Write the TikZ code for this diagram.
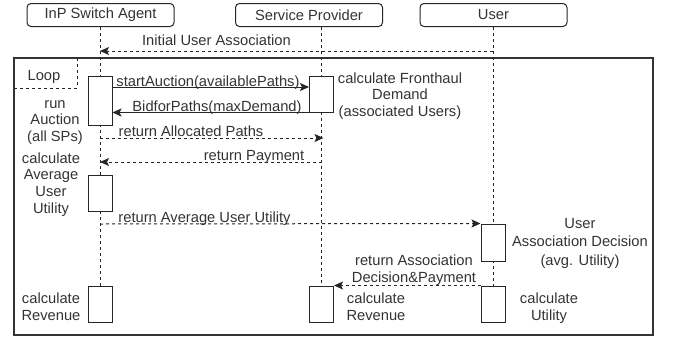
\documentclass[tikz,border=0pt]{standalone}
\usepackage{fontspec}
\setmainfont{Liberation Sans}
\usetikzlibrary{arrows.meta}
\begin{document}
\begin{tikzpicture}[x=1pt,y=-1pt,
  every node/.style={font=\fontsize{14.7}{16.8}\selectfont, text=black!80},
  actor/.style={draw=black!85, rounded corners=4pt, minimum width=147pt, minimum height=23pt, inner sep=0pt, line width=1pt},
  actbox/.style={draw=black!85, fill=white, minimum width=24pt, inner sep=0pt, line width=1pt},
  life/.style={draw=black!85, dash pattern=on 3pt off 3pt, line width=1pt},
  msg/.style={draw=black!85, line width=1pt, -{Stealth[length=9pt,width=8pt,inset=2pt]}},
  ret/.style={msg, dash pattern=on 3pt off 3pt},
  lbl/.style={inner sep=0pt, anchor=base},
  note/.style={align=center, inner sep=0pt, anchor=base}
]
\useasboundingbox (0,0) rectangle (673,341);

% loop frame
\draw[draw=black!80, line width=1.5pt] (14,58) rectangle (653,335);
\node[lbl] (looplbl) at (44,80) {Loop};
\draw[draw=black!85, dash pattern=on 3pt off 3pt, line width=1pt] (14,88) -- (77,88) -- (77,58);

% actors
\node[actor] (agent) at (100.5,15) {InP Switch Agent};
\node[actor] (sp) at (309,15) {Service Provider};
\node[actor] (user) at (493.5,15) {User};

% activation boxes (positions)
\coordinate (a1c) at (100,100.5);
\coordinate (a2c) at (100,193);
\coordinate (a3c) at (100,304);
\coordinate (s1c) at (321.5,94);
\coordinate (s2c) at (321.5,304);
\coordinate (u1c) at (493,242.5);
\coordinate (u2c) at (493,304);

% lifelines
\draw[life] (a1c |- agent.south) -- ([yshift=-49/2*1pt]a1c);
\draw[life] ([yshift=49/2*1pt]a1c) -- ([yshift=-18pt]a2c);
\draw[life] ([yshift=18pt]a2c) -- ([yshift=-18pt]a3c);
\draw[life] (s1c |- sp.south) -- ([yshift=-18pt]s1c);
\draw[life] ([yshift=18pt]s1c) -- ([yshift=-18pt]s2c);
\draw[life] (u1c |- user.south) -- ([yshift=-18.5pt]u1c);
\draw[life] ([yshift=18.5pt]u1c) -- ([yshift=-18pt]u2c);

\node[actbox, minimum height=49pt] (a1) at (a1c) {};
\node[actbox, minimum height=36pt] (a2) at (a2c) {};
\node[actbox, minimum height=36pt] (a3) at (a3c) {};
\node[actbox, minimum height=36pt] (s1) at (s1c) {};
\node[actbox, minimum height=36pt] (s2) at (s2c) {};
\node[actbox, minimum height=37pt] (u1) at (u1c) {};
\node[actbox, minimum height=36pt] (u2) at (u2c) {};

% message y levels
\coordinate (yIU) at (0,51);
\coordinate (ySA) at (0,87);
\coordinate (yAP) at (0,138);
\coordinate (yPY) at (0,162);
\coordinate (yAU) at (0,224);

% messages
\draw[ret] (u1 |- yIU) -- (a1 |- yIU);
\node[lbl] (lIU) at (216.5,45) {Initial User Association};

\draw[msg] (a1.east |- ySA) -- (s1.west |- ySA);
\node[lbl] (lSA) at (208,86) {startAuction(availablePaths)};

\draw[msg] (s1.south east) -- (s1.south west) -- (a1.east |- s1.south);
\node[lbl] (lBP) at (217,111) {BidforPaths(maxDemand)};

\draw[ret] (a1 |- yAP) -- ([xshift=2pt]s1 |- yAP);
\node[lbl] (lAP) at (191,136.5) {return Allocated Paths};

\draw[ret] (s1 |- yPY) -- (a1 |- yPY);
\node[lbl] (lPY) at (254,160.5) {return Payment};

\draw[ret] (a1 |- yAU) -- (u1.north west);
\node[lbl] (lAU) at (204.5,222.5) {return Average User Utility};

\draw[ret] (u2.north west) -- (s2.north east);
\node[note] (lAD) at (414,282) {return Association\\Decision\&Payment};

% notes (anchor base = baseline of the last line)
\node[note] (nFD) at (400,116.6) {calculate Fronthaul\\Demand\\(associated Users)};
\node[note] (nRA) at (55,141.6) {run\\Auction\\(all SPs)};
\node[note] (nAU) at (51,213.4) {calculate\\Average\\User\\Utility};
\node[note, font=\fontsize{14.7}{18.5}\selectfont] (nUA) at (580,265) {User\\Association Decision\\(avg. Utility)};
\node[note] (nR1) at (51,320) {calculate\\Revenue};
\node[note] (nR2) at (376,320) {calculate\\Revenue};
\node[note] (nCU) at (549,320) {calculate\\Utility};
\end{tikzpicture}
\end{document}
